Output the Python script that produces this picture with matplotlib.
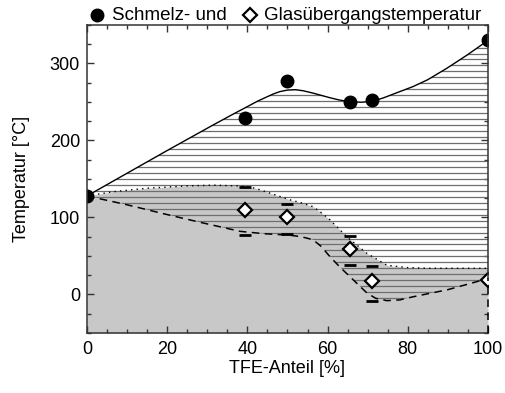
import matplotlib
matplotlib.use("Agg")
import matplotlib.pyplot as plt
import numpy as np
from matplotlib.lines import Line2D
from matplotlib.patches import Polygon

plt.rcParams["font.family"] = ["Liberation Sans", "DejaVu Sans"]

# Measured melting temperatures (filled circles)
melt_x = [0, 39.5, 50, 65.5, 71, 100]
melt_T = [128, 229, 277, 250, 252, 330]

# Measured glass transition temperatures (open diamonds)
glass_x = [39.5, 50, 65.5, 71, 100]
glass_T = [110, 101, 59, 17.5, 19]

# Onset / end of the glass transition range (short bars)
range_x = [39.5, 50, 65.5, 71]
range_hi = [139.6, 117, 76, 37]
range_lo = [77, 78, 38, -9]

# Guide curve through the melting points
mcurve_x = [0, 10, 20, 31.4, 36, 39.8, 42.5, 44.8, 46.5, 48.1, 50, 52, 54, 56.4, 58.5,
            60.6, 63, 65.6, 68.5, 71.3, 74, 77, 81.3, 85, 89.8, 94.8, 100]
mcurve_T = [128, 157.5, 187, 220, 233, 243.5, 251, 256.5, 260.5, 263.5, 265.5, 266, 264.5,
            261.5, 258.5, 255.5, 252.5, 250.3, 249.7, 251, 255.5, 261.5, 270, 279, 294, 311, 330]

# Lower boundary of the glass transition range (dashed)
lower_x = [0, 10, 19, 28, 38.2, 44, 50.6, 53.5, 56.4, 58.5, 60.6, 63, 65.6, 67.8, 69.8,
           72, 74.8, 78, 81.3, 85.5, 89.8, 94, 98.8, 100]
lower_T = [128, 116.5, 105, 94, 82, 79, 77, 75, 71, 62, 49, 36, 23, 12, 2,
           -5, -8, -7, -3, 1.5, 6, 12, 19, 21]

# Upper boundary of the glass transition range (dotted)
upper_x = [0, 6.5, 15, 25, 31.4, 38, 42, 46, 50.6, 53.5, 56.4, 58.5, 60.6, 64.8, 69.8,
           74.8, 79.8, 85, 100]
upper_T = [128, 133.5, 138, 141, 142, 141, 138, 131, 123, 119, 114, 106, 97, 75, 53.5,
           38, 35, 34, 34]

x_ticks = [0, 20, 40, 60, 80, 100]
y_ticks = [0, 100, 200, 300]

fig = plt.figure(figsize=(5.05, 3.93), dpi=100)
ax = fig.add_axes([0.1723, 0.1527, 0.7940, 0.7837])
ax.set_xlim(0, 100)
ax.set_ylim(-50, 350)

# Glassy region below the upper boundary
ax.fill_between(upper_x, -50, upper_T, color="#c8c8c8", lw=0, zorder=1)

# Horizontal hatching between lower boundary and melting curve
poly = Polygon(np.column_stack([mcurve_x + lower_x[::-1], mcurve_T + lower_T[::-1]]),
               closed=True, facecolor="none", edgecolor="none")
ax.add_patch(poly)
for level in np.arange(2.95 - 7.75 * 3, 350, 7.75):
    ln = ax.axhline(level, color="#6e6e6e", lw=0.9, zorder=2)
    ln.set_clip_path(poly)

ax.plot(mcurve_x, mcurve_T, color="black", lw=1.0, zorder=3)
ax.plot(lower_x, lower_T, color="black", lw=1.1, ls=(0, (5, 3.5)), zorder=3)
ax.plot(upper_x, upper_T, color="black", lw=1.0, ls=(0, (1, 3)), zorder=3)
# dashed edge of the glassy region along the right border
ax.plot([100, 100], [-50, lower_T[-1]], color="black", lw=1.1, ls=(0, (5, 3.5)),
        zorder=7, clip_on=False)

ax.plot(range_x, range_hi, ls="none", marker="_", ms=9, mew=2, color="black", zorder=4)
ax.plot(range_x, range_lo, ls="none", marker="_", ms=9, mew=2, color="black", zorder=4)

ax.plot(melt_x, melt_T, ls="none", marker="o", ms=9, color="black", zorder=5)
ax.plot(glass_x, glass_T, ls="none", marker="D", ms=7.5, mfc="white", mec="black",
        mew=1.6, zorder=5)

ax.set_xticks(x_ticks)
ax.set_yticks(y_ticks)
ax.set_xticks(np.arange(0, 101, 5), minor=True)
ax.set_yticks(np.arange(-50, 351, 25), minor=True)
ax.tick_params(which="both", direction="in", top=True, right=True, color="#333333",
               width=1.0, labelsize=13)
ax.tick_params(which="major", length=5)
ax.tick_params(which="minor", length=3)
ax.tick_params(axis="x", pad=6)
ax.tick_params(axis="y", pad=5)
for name, s in ax.spines.items():
    s.set_linewidth(1.1)
    s.set_color("#333333")
    s.set_zorder(6)
# right border is interrupted where the glassy region reaches it
ax.spines["right"].set_bounds(lower_T[-1], 350)

ax.set_xlabel("TFE-Anteil [%]", fontsize=13, labelpad=1)
ax.set_ylabel("Temperatur [°C]", fontsize=13, labelpad=14)

# Legend line above the plot
ly = 1 - 15 / 393
fig.add_artist(Line2D([96.7 / 505], [ly], marker="o", ms=9, color="black",
                      transform=fig.transFigure))
fig.text(112 / 505, ly, "Schmelz- und", fontsize=13.5, va="center", ha="left")
fig.add_artist(Line2D([250 / 505], [ly], marker="D", ms=7, mfc="white", mec="black",
                      mew=1.6, transform=fig.transFigure))
fig.text(264 / 505, ly, "Glasübergangstemperatur", fontsize=13.5, va="center", ha="left")

fig.savefig("out.png", dpi=100)
